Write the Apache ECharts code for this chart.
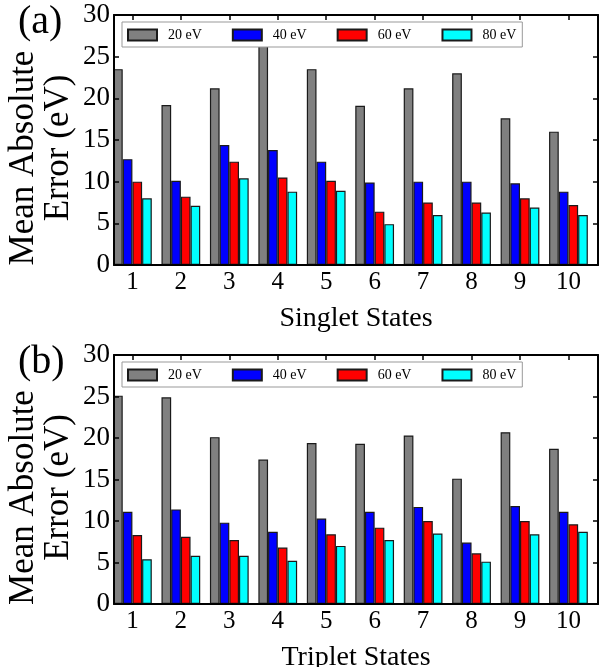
<!DOCTYPE html>
<html>
<head>
<meta charset="utf-8">
<script src="https://cdn.jsdelivr.net/npm/echarts@6/dist/echarts.min.js"></script>
<style>
html,body{margin:0;padding:0;background:#fff;}
#c{width:600px;height:667px;}
</style>
</head>
<body>
<div id="c"></div>
<script>
// ---- data ----
const categories = ['1','2','3','4','5','6','7','8','9','10'];
const seriesNames = ['20 eV','40 eV','60 eV','80 eV'];
const seriesColors = ['#808080','#0000ff','#ff0000','#00ffff'];

const singlet20 = [23.5, 19.2, 21.2, 26.8, 23.5, 19.1, 21.2, 23.0, 17.6, 16.0];
const singlet40 = [12.7, 10.1, 14.4, 13.8, 12.4, 9.9, 10.0, 10.0, 9.8, 8.8];
const singlet60 = [10.0, 8.2, 12.4, 10.5, 10.1, 6.4, 7.5, 7.5, 8.0, 7.2];
const singlet80 = [8.0, 7.1, 10.4, 8.8, 8.9, 4.9, 6.0, 6.3, 6.9, 6.0];

const triplet20 = [25.1, 24.9, 20.1, 17.4, 19.4, 19.3, 20.3, 15.1, 20.7, 18.7];
const triplet40 = [11.1, 11.4, 9.8, 8.7, 10.3, 11.1, 11.7, 7.4, 11.8, 11.1];
const triplet60 = [8.3, 8.1, 7.7, 6.8, 8.4, 9.2, 10.0, 6.1, 10.0, 9.6];
const triplet80 = [5.4, 5.8, 5.8, 5.2, 7.0, 7.7, 8.5, 5.1, 8.4, 8.7];

const yMin = 0, yMax = 30, yStep = 5;
const xMin = 0.62, xMax = 10.61;
const panelLetters = ['(a)', '(b)'];
const xTitles = ['Singlet States', 'Triplet States'];
const yTitleLines = ['Mean Absolute', 'Error (eV)'];

// ---- chart ----
const FONT = '"Liberation Serif", "Times New Roman", serif';
const positions = categories.map((c, i) => i + 1);
const panels = [
  [singlet20, singlet40, singlet60, singlet80],
  [triplet20, triplet40, triplet60, triplet80]
];
const grids = [
  {left: 114, top: 15, width: 484, height: 250, outerBoundsMode: 'none', containLabel: false},
  {left: 114, top: 355, width: 484, height: 249, outerBoundsMode: 'none', containLabel: false}
];

const axisLine = {show: true, onZero: false, lineStyle: {color: '#000', width: 2}};
const tickStyle = {color: '#000', width: 1.5};
const yTitleRich = {
  l1: {fontFamily: FONT, fontSize: 35, lineHeight: 35, color: '#000', padding: [0, 36, 0, 0]},
  l2: {fontFamily: FONT, fontSize: 35, lineHeight: 35, color: '#000', padding: [0, 16, 0, 0]}
};

const xAxis = [], yAxis = [], series = [], legend = [], graphic = [];
grids.forEach((g, p) => {
  xAxis.push({
    gridIndex: p, type: 'value', min: xMin, max: xMax, position: 'bottom', z: 5,
    axisLine: axisLine, splitLine: {show: false},
    axisTick: {show: false},
    axisLabel: {customValues: positions, formatter: v => categories[Math.round(v) - 1],
      fontFamily: FONT, fontSize: 25, color: '#000', margin: 5},
    name: xTitles[p], nameLocation: 'middle', nameGap: 40, nameMoveOverlap: false,
    nameTextStyle: {fontFamily: FONT, fontSize: 28, color: '#000'}
  });
  xAxis.push({
    gridIndex: p, type: 'value', min: xMin, max: xMax, position: 'top', z: 5,
    axisLine: axisLine, splitLine: {show: false},
    axisTick: {show: true, inside: true, length: 5, customValues: positions, lineStyle: tickStyle},
    axisLabel: {show: false}
  });
  yAxis.push({
    gridIndex: p, type: 'value', min: yMin, max: yMax, interval: yStep, position: 'left', z: 5,
    axisLine: axisLine, splitLine: {show: false},
    axisTick: {show: true, inside: true, length: 5, lineStyle: tickStyle},
    axisLabel: {fontFamily: FONT, fontSize: 27, color: '#000', margin: 4},
    name: '{l1|' + yTitleLines[0] + '}\n{l2|' + yTitleLines[1] + '}',
    nameLocation: 'middle', nameGap: 38, nameRotate: 90, nameMoveOverlap: false,
    nameTextStyle: {fontFamily: FONT, fontSize: 35, lineHeight: 35, color: '#000', align: 'center',
      rich: yTitleRich}
  });
  yAxis.push({
    gridIndex: p, type: 'value', min: yMin, max: yMax, interval: yStep, position: 'right', z: 5,
    axisLine: axisLine, splitLine: {show: false},
    axisTick: {show: true, inside: true, length: 5, lineStyle: tickStyle},
    axisLabel: {show: false}
  });
  panels[p].forEach((arr, s) => {
    series.push({
      type: 'bar', name: seriesNames[s], xAxisIndex: p * 2, yAxisIndex: p * 2,
      data: arr.map((v, i) => [positions[i], v]),
      barWidth: '20%', barGap: '0%', clip: true,
      itemStyle: {color: seriesColors[s], borderColor: '#1a1a1a', borderWidth: 1.2},
      emphasis: {disabled: true}
    });
  });
  legend.push({
    data: seriesNames, left: 122, top: g.top + 7, orient: 'horizontal', icon: 'rect',
    itemWidth: 29, itemHeight: 11, itemGap: 30, padding: [6, 6, 5, 5],
    borderColor: '#999', borderWidth: 1, backgroundColor: '#fff', borderRadius: 0,
    selectedMode: false, z: 10,
    textStyle: {fontFamily: FONT, fontSize: 14, color: '#000', padding: [0, 0, 0, 6]}
  });
  graphic.push({
    type: 'text', left: 18, top: g.top - 13,
    style: {text: panelLetters[p], font: '40px ' + FONT, fill: '#000'}
  });
});

const chart = echarts.init(document.getElementById('c'), null, {renderer: 'canvas'});
chart.setOption({
  animation: false,
  backgroundColor: '#fff',
  grid: grids,
  xAxis: xAxis,
  yAxis: yAxis,
  legend: legend,
  series: series,
  graphic: graphic
});
</script>
</body>
</html>
